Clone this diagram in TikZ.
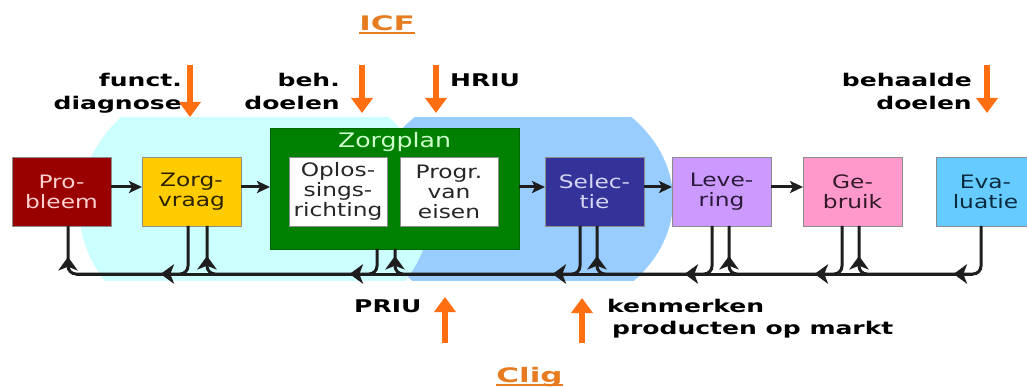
\documentclass[tikz,border=0pt]{standalone}
\usepackage{fontspec}
\usetikzlibrary{arrows.meta,positioning,calc,decorations.markings}
\newfontfamily\boxfont[FakeStretch=1.26]{DejaVu Sans}
\newfontfamily\cuefont[FakeStretch=1.43]{DejaVu Sans}
\newfontfamily\bronfont[FakeStretch=1.55]{DejaVu Sans}
\definecolor{rood}{HTML}{990000}
\definecolor{roodtekst}{HTML}{FFD0D0}
\definecolor{geel}{HTML}{FFCC00}
\definecolor{geeltekst}{HTML}{2B2200}
\definecolor{groen}{HTML}{008000}
\definecolor{groentekst}{HTML}{CCFFCC}
\definecolor{paars}{HTML}{333399}
\definecolor{paarstekst}{HTML}{D5D5F5}
\definecolor{lila}{HTML}{CC99FF}
\definecolor{lilatekst}{HTML}{2A1A3A}
\definecolor{roze}{HTML}{FF99CC}
\definecolor{rozetekst}{HTML}{331A26}
\definecolor{hemel}{HTML}{66CCFF}
\definecolor{hemeltekst}{HTML}{0A2A40}
\definecolor{ijs}{HTML}{CCFFFF}
\definecolor{lucht}{HTML}{99CCFF}
\definecolor{oranje}{HTML}{FF6F11}
\definecolor{koper}{HTML}{E67C1F}
\definecolor{lijn}{HTML}{1E1E1E}
\newcommand{\orangeul}[1]{\setbox0=\hbox{#1}\rlap{\rule[-3.5pt]{\wd0}{2pt}}\box0}
\tikzset{box/.style={draw=black!45,line width=0.8pt,minimum width=99pt,minimum height=69pt,
  align=center,inner sep=0pt,outer sep=0pt,font=\boxfont\fontsize{18.5}{20}\selectfont},
  inbox/.style={box,fill=white,minimum width=98pt,text=black!85},
  flow/.style={-{Stealth[length=13pt,width=12pt,inset=3pt]},line width=3pt,draw=lijn},
  busline/.style={draw=lijn,line width=3pt},
  feedback/.style 2 args={busline,rounded corners=8pt,postaction={decorate},
    decoration={markings,
      mark=at position #1 with {\arrow[scale=1.5]{Stealth[length=9pt,width=13pt,inset=2.5pt]}},
      mark=at position #2 with {\arrow[scale=1.5]{Stealth[length=9pt,width=13pt,inset=2.5pt]}}}},
  cue/.style={font=\cuefont\bfseries\fontsize{17.5}{23}\selectfont,inner sep=0pt},
  bron/.style={font=\bronfont\bfseries\fontsize{20}{24}\selectfont,text=koper,inner sep=0pt,anchor=base},
  pijl/.style={-{Triangle[length=15pt,width=21pt]},line width=6.5pt,draw=oranje}}

\begin{document}
\begin{tikzpicture}[x=1pt,y=-1pt]
\path[use as bounding box,clip] (0,0) rectangle (1027,387);
\begin{scope}
\clip (0,118) rectangle (1027,280);
\fill[lucht] (523,200) ellipse [x radius=150,y radius=120];
\fill[ijs] (255,208) ellipse [x radius=176,y radius=140];
\end{scope}
\node[box,fill=rood,text=roodtekst] (probleem) at (61.5,191.5) {Pro-\\bleem};
\node[box,fill=geel,text=geeltekst,right=31pt of probleem] (vraag) {Zorg-\\vraag};
\node[box,fill=groen,draw=groen!80!black,minimum width=249pt,minimum height=121pt,
  right=29pt of vraag,yshift=3pt] (plan) {};
\node[anchor=base,inner sep=0pt,text=groentekst,font=\boxfont\fontsize{20}{24}\selectfont]
  (plantitel) at ([yshift=-20pt]plan.north) {Zorgplan};
\node[inbox,below right=29pt and 19pt of plan.north west] (richting) {Oplos-\\sings-\\richting};
\node[inbox,right=13pt of richting] (eisen) {Progr.\\van\\eisen};
\node[box,fill=paars,text=paarstekst,right=26pt of plan,yshift=-3pt] (selectie) {Selec-\\tie};
\node[box,fill=lila,text=lilatekst,right=28pt of selectie] (levering) {Leve-\\ring};
\node[box,fill=roze,text=rozetekst,right=32pt of levering] (gebruik) {Ge-\\bruik};
\node[box,fill=hemel,text=hemeltekst,right=34pt of gebruik] (evaluatie) {Eva-\\luatie};

\draw[flow] ([yshift=4.5pt]probleem.east)--([yshift=4.5pt]vraag.west);
\draw[flow] ([yshift=4.5pt]vraag.east)--([yshift=1.5pt]plan.west);
\draw[flow] ([yshift=1.5pt]plan.east)--([yshift=4.5pt]selectie.west);
\draw[flow] ([yshift=4.5pt]selectie.east)--([yshift=4.5pt]levering.west);
\draw[flow] ([yshift=4.5pt]levering.east)--([yshift=4.5pt]gebruik.west);

\coordinate (bus) at (0,274);
\coordinate (pU) at ([xshift=6.5pt]probleem.south);
\coordinate (vD) at ([xshift=-3.5pt]vraag.south);\coordinate (vU) at ([xshift=15.5pt]vraag.south);
\coordinate (zD) at ([xshift=-17.5pt]plan.south);\coordinate (zU) at ([xshift=0.5pt]plan.south);
\coordinate (sD) at ([xshift=-14.5pt]selectie.south);\coordinate (sU) at ([xshift=2.5pt]selectie.south);
\coordinate (lD) at ([xshift=-9.5pt]levering.south);\coordinate (lU) at ([xshift=7.5pt]levering.south);
\coordinate (gD) at ([xshift=-10.5pt]gebruik.south);\coordinate (gU) at ([xshift=6.5pt]gebruik.south);
\coordinate (eD) at ([xshift=-4.5pt]evaluatie.south);
\coordinate (busL) at (pU |- bus);\coordinate (busR) at (eD |- bus);
\draw[busline,shorten <=8pt,shorten >=8pt] (busL)--(busR);
\draw[feedback={72pt}{-31pt}] (vD)--(vD |- bus)--(pU |- bus)--(pU);
\draw[feedback={49pt}{-30pt}] (zD)--(zD |- bus)--(vU |- bus)--(vU);
\draw[feedback={72pt}{-7pt}] (sD)--(sD |- bus)--(zU |- bus)--(zU);
\draw[feedback={72pt}{-30pt}] (lD)--(lD |- bus)--(sU |- bus)--(sU);
\draw[feedback={72pt}{-30pt}] (gD)--(gD |- bus)--(lU |- bus)--(lU);
\draw[feedback={72pt}{-30pt}] (eD)--(eD |- bus)--(gU |- bus)--(gU);

\node[bron] (icf) at (387,31) {\orangeul{ICF}};
\node[bron] (clig) at (529.5,382) {\orangeul{Clig}};
\node[cue,align=right,anchor=base east] (diagnose) at (182,110) {funct.\\diagnose};
\node[cue,align=right,anchor=base east] (behdoelen) at (340,110) {beh.\\doelen};
\node[cue,anchor=base west] (hriu) at (450,87) {HRIU};
\node[cue,align=right,anchor=base east] (behaald) at (972,110) {behaalde\\doelen};
\node[cue,anchor=base west] (priu) at (354,312) {PRIU};
\node[cue,align=left,anchor=base west,font=\cuefont\bfseries\fontsize{17.5}{22}\selectfont]
  (markt) at (607,334) {kenmerken\\\hspace*{5pt}producten op markt};
\coordinate (fd1) at (190,65);\coordinate (fd2) at (190,117);
\coordinate (bd1) at (362,65);\coordinate (bd2) at (362,113);
\coordinate (hr1) at (436,65);\coordinate (hr2) at (436,113);
\coordinate (ba1) at (987,65);\coordinate (ba2) at (987,113);
\coordinate (pr1) at (445,343);\coordinate (pr2) at (445,297);
\coordinate (km1) at (582,343);\coordinate (km2) at (582,298);
\draw[pijl] (fd1)--(fd2);\draw[pijl] (bd1)--(bd2);
\draw[pijl] (hr1)--(hr2);\draw[pijl] (ba1)--(ba2);
\draw[pijl] (pr1)--(pr2);\draw[pijl] (km1)--(km2);
\end{tikzpicture}
\end{document}
